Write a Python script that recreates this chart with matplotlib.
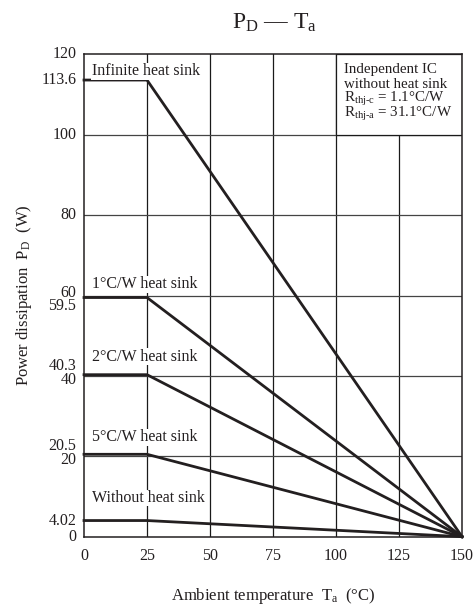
import numpy as np
import matplotlib
matplotlib.use('Agg')
import matplotlib.pyplot as plt
from matplotlib.patches import Rectangle

plt.rcParams.update({
    'font.family': ['Liberation Serif', 'DejaVu Serif'],
    'mathtext.fontset': 'custom',
    'mathtext.rm': 'Liberation Serif',
    'mathtext.it': 'Liberation Serif:italic',
    'font.size': 11.5,
})

# derating curves: flat up to 25 degC, then linear down to 0 W at 150 degC
curve_names = ['Infinite heat sink', '1°C/W heat sink', '2°C/W heat sink',
               '5°C/W heat sink', 'Without heat sink']
pd_max = [113.6, 59.5, 40.3, 20.5, 4.02]
ta_knee = 25
ta_max = 150

# label anchor for each curve (x, y in data units)
label_x = [3.0, 3.0, 3.0, 3.0, 3.0]
label_y = [115.8, 62.8, 44.8, 24.7, 9.6]

x_ticks = [0, 25, 50, 75, 100, 125, 150]
y_grid = [20, 40, 60, 80, 100]
y_tick_vals = [0, 4.02, 20, 20.5, 40, 40.3, 59.5, 60, 80, 100, 113.6, 120]
y_tick_text = ['0', '4.02', '20', '20.5', '40', '40.3', '59.5', '60', '80', '100', '113.6', '120']
# nudges (points) for labels that would collide
y_tick_nudge = {'20.5': 6.0, '20': -2.5, '40.3': 6.0, '40': -3.2, '59.5': -6.0, '60': 2.0}

note_lines = ['Independent IC', 'without heat sink',
              r'R$_{\mathrm{thj\text{-}c}}$ = 1.1°C/W',
              r'R$_{\mathrm{thj\text{-}a}}$ = 31.1°C/W']
note_y = [116.2, 112.5, 108.8, 105.1]

ink = '#231f20'

fig = plt.figure(figsize=(4.73, 6.11), dpi=100)
ax = fig.add_axes([0.1776, 0.1216, 0.7992, 0.7895])
ax.set_xlim(0, 150)
ax.set_ylim(0, 120)

# grid
for x in x_ticks[1:-1]:
    ax.axvline(x, color='#1a1a1a', lw=0.9, zorder=1)
for y in y_grid:
    ax.axhline(y, color='#444444', lw=0.9, zorder=1)

# white note box hides the grid in the upper right corner
ax.add_patch(Rectangle((100, 100), 50, 20, facecolor='white', edgecolor='#1a1a1a',
                       lw=0.9, zorder=2))
for txt, y in zip(note_lines, note_y):
    ax.text(103, y, txt, ha='left', va='center', fontsize=10.8, color=ink, zorder=3)

# curves
for name, p, lx, ly in zip(curve_names, pd_max, label_x, label_y):
    ax.plot([0, ta_knee, ta_max], [p, p, 0], color=ink, lw=2.0,
            solid_joinstyle='miter', zorder=4, clip_on=False)
    ax.text(lx, ly, name, ha='left', va='center', fontsize=11.5, color=ink, zorder=5,
            bbox=dict(facecolor='white', edgecolor='none', pad=0.2))

# axes styling
for s in ax.spines.values():
    s.set_color(ink)
    s.set_linewidth(1.1)
ax.set_xticks(x_ticks)
ax.set_xticklabels([str(v) for v in x_ticks])
ax.tick_params(axis='x', length=0, pad=8, labelsize=11.5, colors=ink)
ax.set_yticks([])

for v, t in zip(y_tick_vals, y_tick_text):
    ax.annotate(t, xy=(0, v), xycoords=('axes fraction', 'data'),
                xytext=(-5.5, y_tick_nudge.get(t, 0)), textcoords='offset points',
                ha='right', va='center', fontsize=11.5, color=ink)

ax.set_xlabel(r'Ambient temperature  T$_\mathrm{a}$  (°C)', fontsize=12,
              color=ink, labelpad=16)
ax.set_ylabel(r'Power dissipation  P$_\mathrm{D}$  (W)', fontsize=12,
              color=ink, labelpad=36)

fig.text(0.58, 0.962, r'P$_\mathrm{D}$ — T$_\mathrm{a}$', ha='center', va='center',
         fontsize=17, color=ink)

fig.savefig('out.png', dpi=100, facecolor='white')
